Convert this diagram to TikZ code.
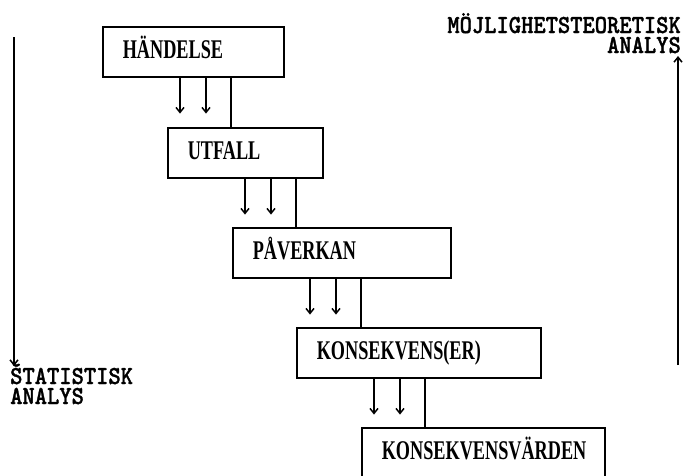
\documentclass[tikz,border=0pt]{standalone}
\usepackage{fontspec}
\setmainfont{Liberation Serif}
\newfontfamily\boxfont[FakeStretch=0.675]{Liberation Serif Bold}
\newfontfamily\sidefont[Extension=.otf, FakeStretch=0.9, FakeBold=1.2]{lmmonolt10-bold}
\usetikzlibrary{arrows.meta}
\begin{document}
\begin{tikzpicture}[x=1pt,y=-1pt,
  stagebox/.style={draw, line width=1.6pt, anchor=north west, minimum height=50pt,
    inner xsep=20pt, inner ysep=0pt, align=left, text height=18pt, text depth=4pt,
    font=\boxfont\fontsize{27}{30}\selectfont},
  flow/.style={line width=1.5pt},
  flowarrow/.style={line width=1.5pt, -{Straight Barb[length=5pt,width=8pt]}},
  sidelabel/.style={inner sep=0pt, text height=17pt, text depth=0pt,
    font=\sidefont\fontsize{26}{28}\selectfont}]
\useasboundingbox (0,0) rectangle (685,475);
% boxes
\node[stagebox, text width=141pt] (b1) at (102,26) {HÄNDELSE};
\node[stagebox, text width=115pt] (b2) at (167,127) {UTFALL};
\node[stagebox, text width=178pt] (b3) at (232,227) {PÅVERKAN};
\node[stagebox, text width=204pt] (b4) at (296,327) {KONSEKVENS(ER)};
\node[stagebox, text width=203pt, minimum height=60pt, text depth=14pt] (b5) at (361,427) {KONSEKVENSVÄRDEN};
% connectors
\foreach \a/\b in {b1/b2, b2/b3, b3/b4, b4/b5}{
  \draw[flowarrow] ([xshift=78pt]\a.south west) -- ++(0,36);
  \draw[flowarrow] ([xshift=104pt]\a.south west) -- ++(0,36);
  \draw[flow] ([xshift=129pt]\a.south west) -- ([xshift=129pt]\a.south west |- \b.north);
}
% side labels
\node[sidelabel, anchor=base west] (stat) at (10,384) {ŠTATISTISK};
\node[sidelabel, anchor=base west] (stat2) at (10,404) {ANALYS};
\node[sidelabel, anchor=base east] (moj) at (681,33) {MÖJLIGHETSTEORETISK};
\node[sidelabel, anchor=base east] (moj2) at (681,53) {ANALYS};
% side arrows
\coordinate (ltop) at (14,37);
\coordinate (lbot) at (14,366);
\draw[flowarrow] (ltop) -- (lbot);
\coordinate (rbot) at (678,365);
\coordinate (rtop) at (678,56);
\draw[flowarrow] (rbot) -- (rtop);
\end{tikzpicture}
\end{document}
